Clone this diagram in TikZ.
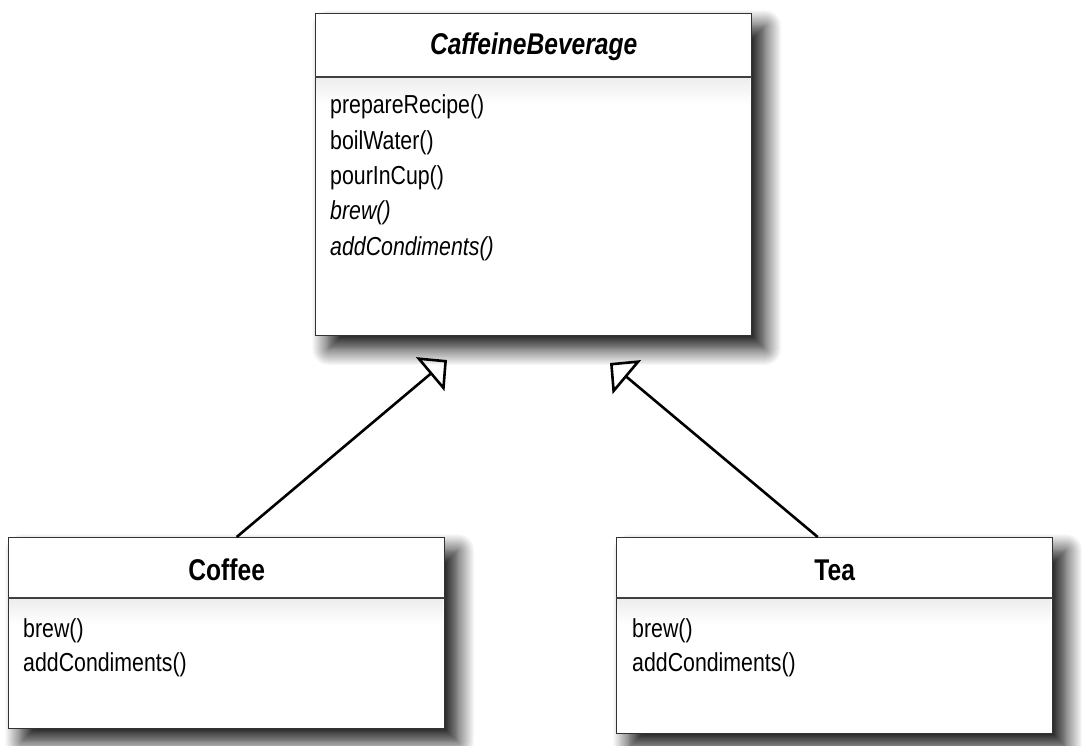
\documentclass[tikz,border=0pt]{standalone}
\usepackage{fontspec}
\newfontfamily\umlfont[FakeStretch=0.82]{Liberation Sans}
\usetikzlibrary{arrows.meta,shadows.blur}

\begin{document}
\begin{tikzpicture}[x=1pt, y=-1pt,
    classbox/.style={draw=black!80, line width=1.4pt, fill=white, anchor=north west, inner sep=0pt,
        blur shadow={shadow xshift=13pt, shadow yshift=-13pt, shadow blur radius=17pt, shadow blur steps=18, shadow opacity=95}},
    sepline/.style={draw=black!75, line width=1.8pt},
    fade/.style={top color=black!7, bottom color=white, draw=none},
    classname/.style={anchor=base, inner sep=0pt, font=\umlfont\fontsize{30}{36}\selectfont\bfseries},
    method/.style={anchor=base west, inner sep=0pt, font=\umlfont\fontsize{26}{35}\selectfont},
    inherit/.style={-{Triangle[open, length=22pt, width=44pt]}, line width=2.6pt, line join=miter}
]
    \useasboundingbox (0,0) rectangle (1082,746);

    % abstract class
    \node[classbox, minimum width=436pt, minimum height=322pt] (bev) at (315,13) {};
    \shade[fade] (316,78) rectangle (750,104);
    \draw[sepline] ([yshift=-64pt]bev.north west) -- ([yshift=-64pt]bev.north east);
    \node[classname] (bevname) at ([yshift=-42pt]bev.north) {\itshape CaffeineBeverage};
    \node[method] (bevm1) at (330,114) {prepareRecipe()};
    \node[method] (bevm2) at (330,149.5) {boilWater()};
    \node[method] (bevm3) at (330,184.5) {pourInCup()};
    \node[method] (bevm4) at (330,219.5) {\itshape brew()};
    \node[method] (bevm5) at (330,255) {\itshape addCondiments()};

    % subclasses
    \node[classbox, minimum width=436pt, minimum height=191pt] (coffee) at (8,537) {};
    \shade[fade] (9,599) rectangle (443,624);
    \draw[sepline] ([yshift=-61pt]coffee.north west) -- ([yshift=-61pt]coffee.north east);
    \node[classname] (coffeename) at ([yshift=-43pt]coffee.north) {Coffee};
    \node[method] (coffeem1) at (23,637) {brew()};
    \node[method] (coffeem2) at (23,671) {addCondiments()};

    \node[classbox, minimum width=436pt, minimum height=196pt] (tea) at (616,537) {};
    \shade[fade] (617,599) rectangle (1051,624);
    \draw[sepline] ([yshift=-61pt]tea.north west) -- ([yshift=-61pt]tea.north east);
    \node[classname] (teaname) at ([yshift=-43pt]tea.north) {Tea};
    \node[method] (team1) at (632,637) {brew()};
    \node[method] (team2) at (632,671) {addCondiments()};

    % generalization
    \coordinate (coffeetip) at (447,360);
    \coordinate (teatip) at (610,363);
    \draw[inherit] ([xshift=10pt]coffee.north) -- (coffeetip);
    \draw[inherit] ([xshift=-17pt]tea.north) -- (teatip);
\end{tikzpicture}
\end{document}
